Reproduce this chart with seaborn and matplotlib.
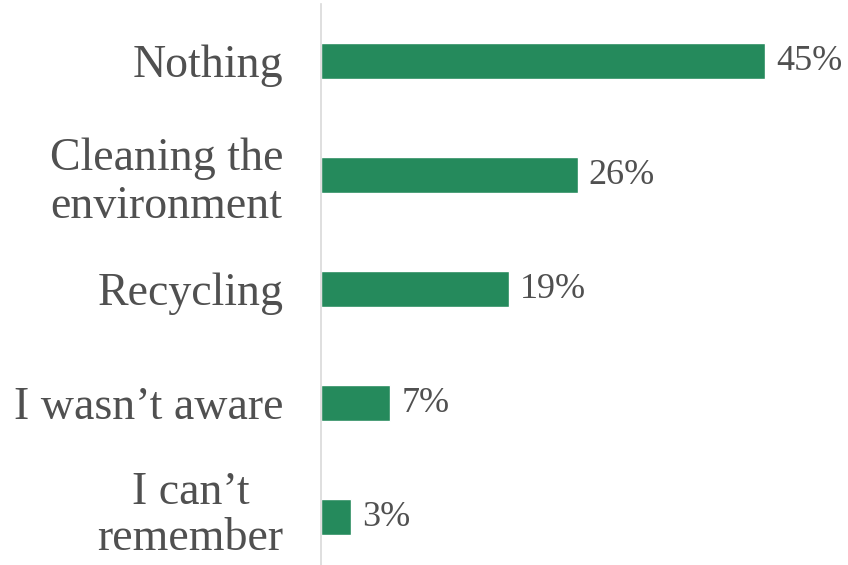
import matplotlib
matplotlib.use("Agg")
import matplotlib.pyplot as plt
import matplotlib.transforms as mtransforms
import seaborn as sns
import pandas as pd

categories = ["Nothing", "Cleaning the\nenvironment", "Recycling",
              "I wasn\u2019t aware", "I can\u2019t\nremember"]
values = [45, 26, 19, 7, 3]

bar_color = "#258A5C"
text_color = "#505050"

sns.set_theme(style="white")
plt.rcParams["font.family"] = ["Liberation Serif", "DejaVu Serif"]

df = pd.DataFrame({"answer": categories, "share": values})

fig = plt.figure(figsize=(8.48, 5.65), dpi=100)
ax = fig.add_axes([321 / 848, 0.0, 1 - 321 / 848, 1 - 4 / 565])

sns.barplot(data=df, y="answer", x="share", orient="h", color=bar_color,
            width=0.32, saturation=1, ax=ax)

ax.set_xlim(0, (848 - 321) / 9.87)
ax.set_ylim(4.42, -0.5)

ax.bar_label(ax.containers[0], fmt="%d%%", padding=8,
             fontsize=26, color=text_color)

ax.set_xlabel("")
ax.set_ylabel("")
ax.set_xticks([])
ax.tick_params(axis="y", length=0, pad=27, labelsize=33, labelcolor=text_color)
for t in ax.get_yticklabels():
    t.set_multialignment("center")
    t.set_linespacing(1.18)

# lift the bottom label a little so its second line stays inside the figure
for tick in ax.yaxis.get_major_ticks()[-1:]:
    lift = mtransforms.ScaledTranslation(0, 6 / 72, fig.dpi_scale_trans)
    tick.label1.set_linespacing(1.1)
    tick.label1.set_transform(tick.label1.get_transform() + lift)

for side in ["top", "right", "bottom"]:
    ax.spines[side].set_visible(False)
ax.spines["left"].set_color("#D9D9D9")
ax.spines["left"].set_linewidth(1.2)

fig.savefig("out.png", dpi=100)
